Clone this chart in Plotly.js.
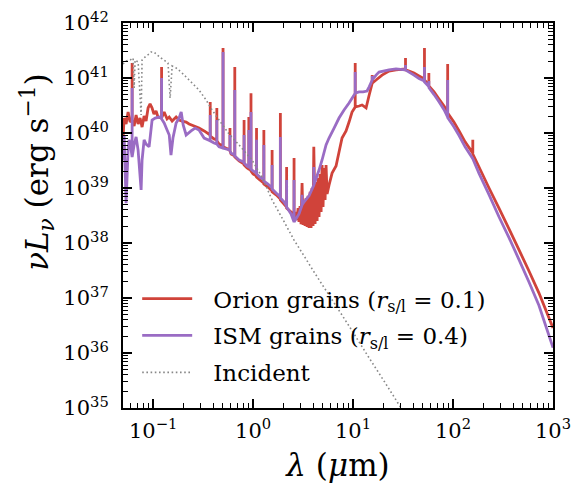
<!DOCTYPE html>
<html>
<head>
<meta charset="utf-8">
<script src="https://cdn.plot.ly/plotly-3.0.1.min.js"></script>
<style>html,body{margin:0;padding:0;background:#fff;}#chart{width:574px;height:486px;}</style>
</head>
<body>
<div id="chart"></div>
<script>
// ---------- Data (wavelength in micron, nu L_nu in erg/s) ----------
const incidentLam = [0.05,0.0537,0.0589,0.0631,0.0646,0.0661,0.0708,0.0759,0.0776,0.0851,0.0912,0.0955,0.102,0.110,0.120,0.132,0.141,0.148,0.155,0.170,0.191,0.229,0.288,0.339,0.389,0.457,0.575,0.724,0.977,1.23,1.55,2.00,2.57,3.24,4.07,5.75,9.12,14.5,20.4,26.9,32.4];
const incidentL   = [1.80e41,2.04e41,2.12e41,2.31e41,6.6e40,2.12e41,1.95e41,2.12e40,2.12e41,2.51e41,2.73e41,2.97e41,2.97e41,2.62e41,2.31e41,2.04e41,1.87e41,4.3e40,1.65e41,1.52e41,1.28e41,9.2e40,6.05e40,3.98e40,2.62e40,1.72e40,9.6e39,6.05e39,3.23e39,1.58e39,6.05e38,2.62e38,1.13e38,5.8e37,2.97e37,1.13e37,3.1e36,8.1e35,3.1e35,1.40e35,8.1e34];

const orionLam = [
  0.05,0.0513,0.0537,0.0562,0.0589,0.0617,0.0617,0.0617,0.0646,0.0676,0.0708,0.0741,0.0776,0.0813,0.0851,0.0891,0.0933,0.0977,0.102,0.107,0.112,
  0.1216,0.1216,0.1216,0.129,0.138,0.145,0.155,0.170,0.182,0.195,0.214,0.229,0.257,0.288,0.324,
  0.3727,0.3727,0.3727,0.407,0.434,0.434,0.434,0.457,0.5007,0.5007,0.5007,0.5876,0.5876,0.5876,0.603,
  0.6563,0.6563,0.6563,0.724,0.813,0.813,0.813,0.87,0.9069,0.9069,0.9069,0.9532,0.9532,0.9532,
  1.0,1.083,1.083,1.083,1.17,1.282,1.282,1.282,1.41,1.55,1.55,1.55,1.70,1.875,1.875,1.875,2.04,2.166,2.166,2.166,2.40,2.57,2.57,2.57,
  2.69,2.75,2.82,2.88,2.95,3.02,3.09,3.16,3.24,3.31,3.39,3.47,3.55,3.63,3.72,3.80,3.89,3.98,4.05,4.17,4.27,4.37,4.47,4.57,4.68,4.79,4.90,5.01,5.13,5.25,5.37,5.50,
  5.75,6.17,6.76,7.24,7.76,8.51,9.12,9.77,10.51,10.51,10.51,11.5,12.3,13.5,14.5,15.55,15.55,15.55,17.0,19.5,22.9,26.9,
  33.48,33.48,33.48,36.3,40.7,45.7,51.8,51.8,51.8,57.3,57.3,57.3,64.6,72.4,81.3,88.4,88.4,88.4,102,115,132,157.7,157.7,157.7,
  182,229,288,363,457,575,724,1000];
const orionL = [
  7.5e39,1.87e40,1.46e40,2.41e40,1.58e40,1.72e40,1.87e41,1.72e40,1.34e40,2.12e40,1.46e40,1.87e40,1.28e40,2.04e40,1.65e40,2.85e40,3.37e40,2.85e40,2.21e40,2.51e40,1.95e40,
  1.87e40,1.58e41,1.87e40,2.41e40,1.80e40,1.95e40,1.65e40,1.95e40,1.72e40,1.65e40,1.58e40,1.46e40,1.34e40,1.23e40,1.09e40,
  9.2e39,3.66e40,8.8e39,7.8e39,7.5e39,2.85e40,7.2e39,6.3e39,5.8e39,3.51e41,5.6e39,4.9e39,1.23e40,4.7e39,4.15e39,
  3.82e39,1.58e41,3.66e39,3.1e39,2.73e39,1.72e40,2.62e39,2.31e39,2.21e39,1.95e40,2.21e39,2.12e39,5.3e40,2.04e39,
  1.80e39,1.65e39,1.23e40,1.58e39,1.40e39,1.23e39,1.13e40,1.18e39,1.04e39,8.8e38,4.9e39,8.5e38,7.5e38,6.3e38,2.31e40,6.05e38,5.1e38,4.5e38,2.41e39,4.3e38,3.66e38,3.23e38,3.51e39,2.97e38,
  3.66e38,2.62e38,4.3e38,2.41e38,4.7e38,2.21e38,1.23e39,2.12e38,6.05e38,2.04e38,6.6e38,1.95e38,7.2e38,1.87e38,8.5e38,1.87e38,1.0e39,2.04e38,5.6e39,2.21e38,1.28e39,2.51e38,1.52e39,2.97e38,1.80e39,3.66e38,2.62e39,4.5e38,2.31e39,6.05e38,2.62e39,7.8e38,
  1.13e39,1.87e39,2.51e39,4.5e39,8.1e39,1.09e40,1.58e40,2.41e40,2.97e40,1.87e41,2.97e40,3.1e40,3.23e40,2.85e40,4.9e40,8.1e40,1.13e41,8.1e40,9.2e40,1.13e41,1.34e41,1.40e41,
  1.46e41,2.31e41,1.40e41,1.34e41,1.23e41,1.09e41,9.6e40,3.51e41,9.2e40,7.5e40,1.23e41,7.2e40,5.6e40,4.15e40,3.1e40,2.41e40,1.80e41,2.31e40,1.58e40,1.09e40,6.9e39,4.3e39,7.5e39,4.15e39,
  2.41e39,1.0e39,4.3e38,1.80e38,7.5e37,3.1e37,1.23e37,2.85e36];

const ismLam = [
  0.05,0.0513,0.0537,0.0562,0.0575,0.0603,0.0617,0.0617,0.0617,0.0646,0.0676,0.0708,0.0759,0.0776,0.0813,0.0851,0.0912,0.0977,0.105,0.115,
  0.1216,0.1216,0.1216,0.129,0.138,0.145,0.151,0.158,0.170,0.182,0.191,0.200,0.214,0.240,0.263,0.288,0.324,
  0.3727,0.3727,0.3727,0.407,0.434,0.434,0.434,0.457,0.5007,0.5007,0.5007,0.5876,0.5876,0.5876,0.603,
  0.6563,0.6563,0.6563,0.724,0.813,0.813,0.813,0.87,0.9069,0.9069,0.9069,0.9532,0.9532,0.9532,
  1.0,1.083,1.083,1.083,1.17,1.282,1.282,1.282,1.41,1.55,1.55,1.55,1.70,1.875,1.875,1.875,2.04,2.166,2.166,2.166,2.40,2.57,2.57,2.57,
  2.88,3.09,3.09,3.09,3.24,3.63,4.05,4.05,4.05,4.57,4.90,5.37,5.75,6.46,7.24,8.13,9.12,9.77,10.51,10.51,10.51,11.5,12.6,13.8,14.5,15.55,15.55,15.55,17.0,18.2,22.9,26.9,
  33.48,33.48,33.48,36.3,40.7,45.7,51.8,51.8,51.8,57.3,57.3,57.3,64.6,72.4,81.3,88.4,88.4,88.4,102,115,132,157.7,
  182,229,288,363,457,575,724,1000];
const ismL = [
  3.23e39,9.2e39,5.3e38,4.9e39,7.5e39,4.9e39,3.66e39,6.6e40,3.66e39,6.05e39,8.5e39,4.9e39,9.2e38,3.23e39,7.5e39,6.3e39,5.6e39,1.72e40,1.87e40,1.95e40,
  1.87e40,1.0e41,1.80e40,1.52e40,1.13e40,9.2e39,3.98e39,8.1e39,1.52e40,1.87e40,2.41e40,1.40e40,9.2e39,1.09e40,1.23e40,1.13e40,8.1e39,
  7.2e39,2.12e40,7.2e39,6.6e39,6.3e39,1.72e40,6.3e39,5.6e39,5.3e39,2.97e41,5.3e39,4.9e39,9.2e39,4.7e39,4.3e39,
  3.98e39,6.05e40,3.82e39,3.23e39,2.97e39,9.2e39,2.85e39,2.51e39,2.41e39,1.13e40,2.41e39,2.31e39,2.41e40,2.21e39,
  2.04e39,1.87e39,7.5e39,1.80e39,1.58e39,1.40e39,6.05e39,1.34e39,1.18e39,1.0e39,2.62e39,9.6e38,8.1e38,6.9e38,8.5e39,6.6e38,5.6e38,4.7e38,1.40e39,4.5e38,3.37e38,2.41e38,1.40e39,2.41e38,
  3.37e38,4.9e38,7.5e38,4.9e38,5.6e38,7.2e38,1.13e39,2.41e39,1.13e39,2.12e39,3.23e39,6.05e39,8.1e39,1.23e40,1.87e40,2.62e40,3.51e40,4.3e40,5.3e40,1.28e41,5.3e40,5.6e40,5.6e40,5.8e40,6.9e40,9.2e40,1.09e41,9.2e40,1.13e41,1.28e41,1.40e41,1.46e41,
  1.40e41,1.72e41,1.40e41,1.28e41,1.13e41,9.8e40,8.8e40,1.58e41,8.5e40,7.0e40,8.8e40,6.7e40,5.0e40,3.7e40,2.65e40,1.95e40,9.2e40,1.9e40,1.3e40,9.0e39,5.6e39,3.4e39,
  1.85e39,7.6e38,3.0e38,1.25e38,5.0e37,1.95e37,7.3e36,1.25e36];

const seriesNames = ['Orion grains (<i>r</i><sub>s/l</sub> = 0.1)', 'ISM grains (<i>r</i><sub>s/l</sub> = 0.4)', 'Incident'];
const xTickVals = [0.1, 1, 10, 100, 1000];
const xTickText = ['10<sup>−1</sup>', '10<sup>0</sup>', '10<sup>1</sup>', '10<sup>2</sup>', '10<sup>3</sup>'];
const yTickVals = [1e35, 1e36, 1e37, 1e38, 1e39, 1e40, 1e41, 1e42];
const yTickText = ['10<sup>35</sup>', '10<sup>36</sup>', '10<sup>37</sup>', '10<sup>38</sup>', '10<sup>39</sup>', '10<sup>40</sup>', '10<sup>41</sup>', '10<sup>42</sup>'];
const xTitle = '<i>λ</i> (<i>μ</i>m)';
const yTitle = '<i>νL</i><sub><i>ν</i></sub> (erg s<sup>−1</sup>)';

// ---------- Plot ----------
const FONT = 'DejaVu Serif, serif';
const PAD = '\u2002\u2009';
const traces = [
  {x: orionLam, y: orionL, name: PAD + seriesNames[0], type: 'scatter', mode: 'lines', legendgroup: 'a',
   line: {color: '#d0433a', width: 2.8, simplify: false}},
  {x: ismLam, y: ismL, name: PAD + seriesNames[1], type: 'scatter', mode: 'lines', legendgroup: 'b',
   line: {color: '#9a6cc4', width: 2.8, simplify: false}},
  {x: incidentLam, y: incidentL, name: PAD + seriesNames[2], type: 'scatter', mode: 'lines', legendgroup: 'c',
   line: {color: '#888888', width: 1.6, dash: '1.6px,2.6px', simplify: false}}
];

const axisCommon = {
  type: 'log', showgrid: false, zeroline: false, showline: true, linecolor: '#000', linewidth: 2,
  mirror: 'allticks', ticks: 'inside', ticklen: 9, tickwidth: 1.5, tickcolor: '#000',
  tickmode: 'array', tickfont: {family: FONT, size: 21, color: '#000'},
  minor: {ticks: 'inside', ticklen: 5, tickwidth: 1, tickcolor: '#000', dtick: 'D1', showgrid: false}
};

const layout = {
  width: 574, height: 486,
  margin: {l: 123, r: 21, t: 23, b: 78},
  paper_bgcolor: '#fff', plot_bgcolor: '#fff',
  font: {family: FONT, color: '#000'},
  showlegend: true,
  legend: {x: 0.033, y: 0.34, xanchor: 'left', yanchor: 'top', bgcolor: 'rgba(0,0,0,0)',
           font: {family: FONT, size: 23, color: '#000'}, traceorder: 'grouped', tracegroupgap: 4, itemwidth: 50},
  xaxis: Object.assign({}, axisCommon, {
    range: [Math.log10(0.05), 3], tickvals: xTickVals, ticktext: xTickText, ticklabelstandoff: 3,
    title: {text: xTitle, font: {family: FONT, size: 31, color: '#000'}, standoff: 12}
  }),
  yaxis: Object.assign({}, axisCommon, {
    range: [35, 42], tickvals: yTickVals, ticktext: yTickText, ticklabelstandoff: 8
  }),
  annotations: [{
    text: yTitle, xref: 'paper', yref: 'paper', x: -0.198, y: 0.613, xanchor: 'center', yanchor: 'middle',
    textangle: -90, showarrow: false, font: {family: FONT, size: 31, color: '#000'}
  }]
};

Plotly.newPlot('chart', traces, layout, {displayModeBar: false, staticPlot: true});
</script>
</body>
</html>
